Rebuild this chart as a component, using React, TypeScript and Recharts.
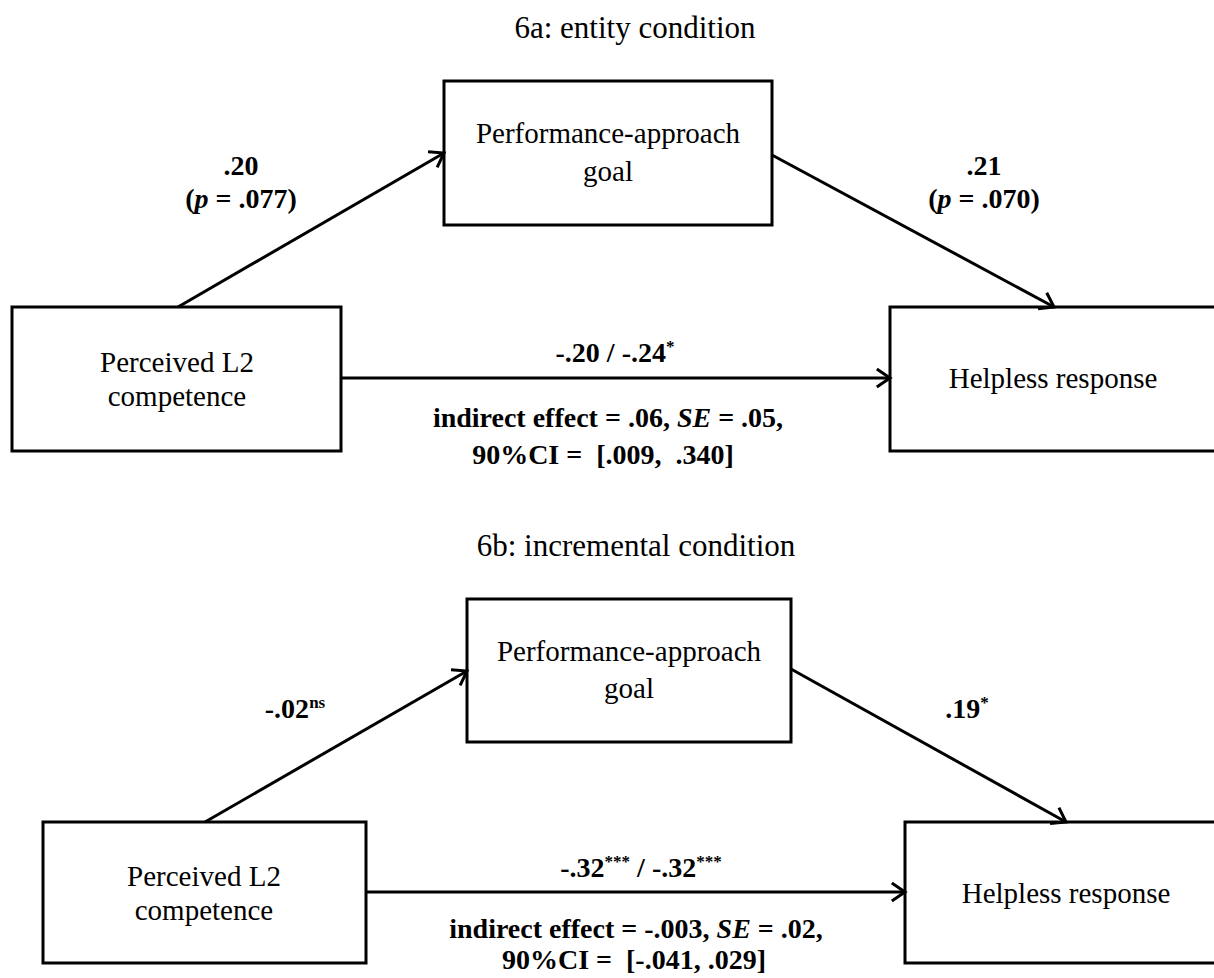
import React from 'react';
import { ComposedChart, XAxis, YAxis, ReferenceArea, ReferenceLine, Scatter } from 'recharts';

// ---- Diagram data (diagram units = pixels of the 1214 x 978 canvas) ----
const panelTitles = [
  { x: 635, y: 38, text: '6a: entity condition', role: 'title' },
  { x: 636, y: 556, text: '6b: incremental condition', role: 'title' },
];

const boxes = [
  { id: 'a-mediator', x1: 444, x2: 772, y1: 81, y2: 225 },
  { id: 'a-predictor', x1: 12, x2: 341, y1: 307, y2: 451 },
  { id: 'a-outcome', x1: 890, x2: 1240, y1: 307, y2: 451 },
  { id: 'b-mediator', x1: 467, x2: 791, y1: 599, y2: 742 },
  { id: 'b-predictor', x1: 43, x2: 366, y1: 822, y2: 963 },
  { id: 'b-outcome', x1: 905, x2: 1240, y1: 822, y2: 963 },
];

const paths = [
  { id: 'a-a', from: { x: 178, y: 307 }, to: { x: 444, y: 153 } },
  { id: 'a-b', from: { x: 772, y: 155 }, to: { x: 1054, y: 307 } },
  { id: 'a-c', from: { x: 341, y: 378 }, to: { x: 890, y: 378 } },
  { id: 'b-a', from: { x: 205, y: 822 }, to: { x: 467, y: 671 } },
  { id: 'b-b', from: { x: 791, y: 669 }, to: { x: 1066, y: 822 } },
  { id: 'b-c', from: { x: 366, y: 892 }, to: { x: 905, y: 892 } },
];

const nodeLabels = [
  { x: 608, y: 143, text: 'Performance-approach', role: 'node' },
  { x: 608, y: 181, text: 'goal', role: 'node' },
  { x: 177, y: 372, text: 'Perceived L2', role: 'node' },
  { x: 177, y: 406, text: 'competence', role: 'node' },
  { x: 1053, y: 388, text: 'Helpless response', role: 'node' },
  { x: 629, y: 661, text: 'Performance-approach', role: 'node' },
  { x: 629, y: 698, text: 'goal', role: 'node' },
  { x: 204, y: 886, text: 'Perceived L2', role: 'node' },
  { x: 204, y: 920, text: 'competence', role: 'node' },
  { x: 1066, y: 903, text: 'Helpless response', role: 'node' },
];

const coefficientLabels = [
  { x: 241, y: 175, text: '.20', role: 'coef' },
  { x: 241, y: 208, text: '(_p_ = .077)', role: 'coef' },
  { x: 984, y: 175, text: '.21', role: 'coef' },
  { x: 984, y: 208, text: '(_p_ = .070)', role: 'coef' },
  { x: 615, y: 362, text: '-.20 / -.24^*^', role: 'coef' },
  { x: 608, y: 427, text: 'indirect effect = .06, _SE_ = .05,', role: 'coef' },
  { x: 603, y: 464, text: '90%CI =  [.009,  .340]', role: 'coef' },
  { x: 295, y: 718, text: '-.02^ns^', role: 'coef' },
  { x: 967, y: 718, text: '.19^*^', role: 'coef' },
  { x: 641, y: 877, text: '-.32^***^ / -.32^***^', role: 'coef' },
  { x: 636, y: 938, text: 'indirect effect = -.003, _SE_ = .02,', role: 'coef' },
  { x: 634, y: 969, text: '90%CI =  [-.041, .029]', role: 'coef' },
];

const allTexts = [...panelTitles, ...nodeLabels, ...coefficientLabels];

// ---- Rendering helpers ----
const FONT = "'Liberation Serif', 'Times New Roman', 'DejaVu Serif', serif";
const roleStyle: Record<string, { size: number; weight: number }> = {
  title: { size: 31, weight: 400 },
  node: { size: 29, weight: 400 },
  coef: { size: 28, weight: 700 },
};

type Run = { t: string; italic: boolean; sup: boolean };

function parseRuns(s: string): Run[] {
  const runs: Run[] = [];
  let italic = false;
  let sup = false;
  let buf = '';
  const flush = () => {
    if (buf) runs.push({ t: buf, italic, sup });
    buf = '';
  };
  for (const ch of s) {
    if (ch === '_') { flush(); italic = !italic; }
    else if (ch === '^') { flush(); sup = !sup; }
    else buf += ch;
  }
  flush();
  return runs;
}

const TextShape = (props: any) => {
  const { cx, cy, payload } = props;
  if (cx == null || cy == null || !payload) return <g />;
  const st = roleStyle[payload.role] || roleStyle.node;
  const runs = parseRuns(payload.text);
  const shift = Math.round(st.size * 0.36);
  let cur = 0;
  return (
    <text
      x={cx}
      y={cy}
      textAnchor="middle"
      fontFamily={FONT}
      fontSize={st.size}
      fontWeight={st.weight}
      fill="#000"
      style={{ whiteSpace: 'pre' }}
    >
      {runs.map((r, i) => {
        const target = r.sup ? -shift : 0;
        const dy = target - cur;
        cur = target;
        return (
          <tspan
            key={i}
            dy={dy}
            fontStyle={r.italic ? 'italic' : 'normal'}
            fontSize={r.sup ? Math.round(st.size * 0.62) : st.size}
          >
            {r.t}
          </tspan>
        );
      })}
    </text>
  );
};

const STROKE = 3;

const ArrowShape = (props: any) => {
  const { x1, y1, x2, y2 } = props;
  if ([x1, y1, x2, y2].some((v) => v == null || isNaN(v))) return <g />;
  const ang = Math.atan2(y2 - y1, x2 - x1);
  const L = 16;
  const A = Math.PI / 5.2;
  const p1 = { x: x2 - L * Math.cos(ang - A), y: y2 - L * Math.sin(ang - A) };
  const p2 = { x: x2 - L * Math.cos(ang + A), y: y2 - L * Math.sin(ang + A) };
  return (
    <g>
      <line x1={x1} y1={y1} x2={x2} y2={y2} stroke="#000" strokeWidth={STROKE} />
      <polyline
        points={`${p1.x},${p1.y} ${x2},${y2} ${p2.x},${p2.y}`}
        fill="none"
        stroke="#000"
        strokeWidth={STROKE}
        strokeLinejoin="miter"
      />
    </g>
  );
};

export default function App() {
  return (
    <div style={{ position: 'absolute', left: 0, top: 0, width: 1214, height: 978, background: '#fff' }}>
      <ComposedChart width={1214} height={978} margin={{ top: 0, right: 0, bottom: 0, left: 0 }}>
        <XAxis type="number" dataKey="x" domain={[0, 1214]} hide allowDataOverflow />
        <YAxis type="number" dataKey="y" domain={[0, 978]} reversed hide allowDataOverflow />
        {paths.map((p) => (
          <ReferenceLine
            key={p.id}
            segment={[p.from, p.to]}
            ifOverflow="visible"
            stroke="#000"
            strokeWidth={STROKE}
            shape={ArrowShape}
          />
        ))}
        {boxes.map((b) => (
          <ReferenceArea
            key={b.id}
            x1={b.x1}
            x2={b.x2}
            y1={b.y1}
            y2={b.y2}
            ifOverflow="visible"
            fill="#fff"
            fillOpacity={1}
            stroke="#000"
            strokeWidth={STROKE}
          />
        ))}
        <Scatter data={allTexts} shape={TextShape} isAnimationActive={false} />
      </ComposedChart>
    </div>
  );
}
